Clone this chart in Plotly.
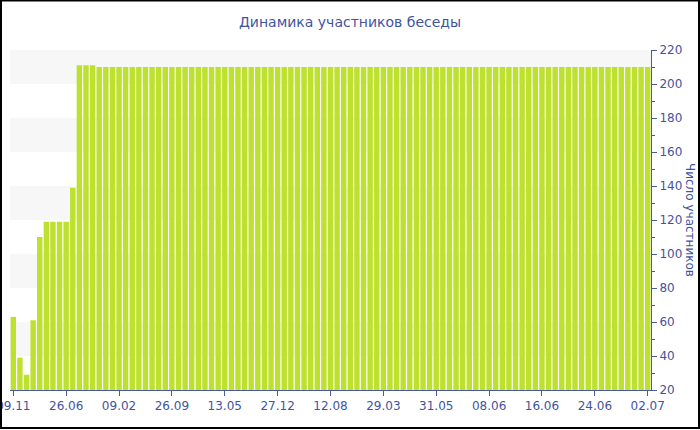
import plotly.graph_objects as go

title_text = "Динамика участников беседы"
y_title = "Число участников"

# participant counts per bar (97 bars)
values = [63, 39, 29, 61, 110, 119, 119, 119, 119, 139,
          211, 211, 211] + [210] * 84
tick_labels = ["09.11", "26.06", "09.02", "26.09", "13.05", "27.12", "12.08",
               "29.03", "31.05", "08.06", "16.06", "24.06", "02.07"]
tick_step = 8

x = list(range(len(values)))
tick_vals = [i * tick_step for i in range(len(tick_labels))]

axis_color = "#4a5aa0"
text_color = "#3f54a0"
font_family = "Verdana, DejaVu Sans, sans-serif"

fig = go.Figure()
fig.add_trace(go.Bar(x=x, y=values, marker=dict(color="#bee12f", line=dict(width=0)),
                     hoverinfo="y"))

shapes = []
for lo in [40, 80, 120, 160, 200]:
    shapes.append(dict(type="rect", xref="paper", yref="y", x0=0, x1=1, y0=lo, y1=lo + 20,
                       fillcolor="#f7f7f7", line=dict(width=0), layer="below"))

L, R, T, B = 10, 49, 50, 40
W, H = 700, 430
pw, ph = W - L - R, H - T - B
shapes.append(dict(type="rect", xref="paper", yref="paper",
                   x0=(-L + 1) / pw, x1=(W - L - 1) / pw,
                   y0=(-B + 2) / ph, y1=(ph + T - 0.5) / ph,
                   line=dict(color="black", width=2), fillcolor="rgba(0,0,0,0)", layer="above"))

fig.update_layout(
    width=W, height=H,
    margin=dict(l=L, r=R, t=T, b=B, autoexpand=False),
    paper_bgcolor="white", plot_bgcolor="white",
    bargap=0.18,
    showlegend=False,
    title=dict(text=title_text, x=0.5, xref="container", xanchor="center",
               y=1 - 22 / H, yref="container", yanchor="middle", automargin=False,
               font=dict(family=font_family, size=14, color=text_color)),
    xaxis=dict(range=[-0.5, len(values) - 0.5], tickmode="array", tickvals=tick_vals,
               ticktext=tick_labels, ticks="outside", ticklen=5, tickcolor=axis_color,
               showline=True, linecolor=axis_color, linewidth=1, showgrid=False,
               zeroline=False, automargin=False, ticklabeloverflow="allow",
               tickfont=dict(family=font_family, size=12, color=text_color)),
    yaxis=dict(range=[20, 220], dtick=20, side="right", ticks="outside", ticklen=5,
               tickcolor=axis_color, showline=True, linecolor=axis_color, linewidth=1,
               showgrid=False, zeroline=False, automargin=False,
               minor=dict(dtick=10, ticks="outside", ticklen=3, tickcolor=axis_color),
               tickfont=dict(family=font_family, size=12, color=text_color)),
    shapes=shapes,
    annotations=[dict(text=y_title, xref="paper", yref="paper", x=1 + (690 - 651) / pw,
                      y=0.5, textangle=90, showarrow=False, xanchor="center", yanchor="middle",
                      font=dict(family=font_family, size=12, color=text_color))],
)

fig.write_html("out.html", config={"displayModeBar": False},
               post_script="document.body.style.margin='0';")
